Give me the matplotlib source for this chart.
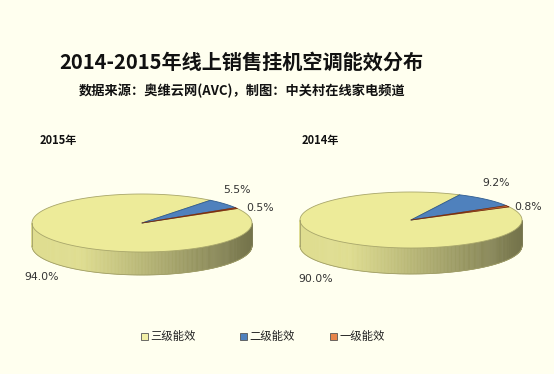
import numpy as np
import matplotlib
matplotlib.use("Agg")
import matplotlib.pyplot as plt
from matplotlib.patches import Polygon, Rectangle

plt.rcParams['font.family'] = ['Noto Sans CJK SC', 'DejaVu Sans']

# ---- data ----
title = "2014-2015年线上销售挂机空调能效分布"
subtitle = "数据来源：奥维云网(AVC)，制图：中关村在线家电频道"
categories = ["三级能效", "二级能效", "一级能效"]
years = ["2015年", "2014年"]
values_2015 = [94.0, 5.5, 0.5]
values_2014 = [90.0, 9.2, 0.8]
series = [values_2015, values_2014]

# ---- style ----
bg = "#FFFFEF"
top_colors = ["#EDEB99", "#4F81BD", "#D8703A"]
edge_colors = ["#A8A66A", "#2F5C8F", "#7A3010"]
legend_colors = ["#F2F0A6", "#4F81BD", "#E8854A"]

fig = plt.figure(figsize=(5.54, 3.74), dpi=100, facecolor=bg)
ax = fig.add_axes([0, 0, 1, 1])
ax.set_xlim(0, 554)
ax.set_ylim(374, 0)
ax.axis("off")
ax.set_facecolor(bg)

# pie layouts: center x, center y, rx, ry, depth, start angle (deg)
layouts = [
    dict(cx=142, cy=223, rx=110, ry=29, depth=23, start=30),
    dict(cx=411, cy=220, rx=111, ry=28, depth=26, start=28),
]
label_pos = [
    [(42, 277), (237, 190), (260, 208)],
    [(316, 279), (496, 183), (528, 207)],
]
year_pos = [(40, 140), (302, 140)]


def shade(color, f):
    c = np.array(matplotlib.colors.to_rgb(color))
    return tuple(np.clip(c * f, 0, 1))


def draw_pie(vals, L):
    cx, cy, rx, ry, d, st = L["cx"], L["cy"], L["rx"], L["ry"], L["depth"], L["start"]
    total = float(sum(vals))
    ranges = []
    a = st
    for v in vals:
        span = 360.0 * v / total
        ranges.append((a - span, a))
        a -= span

    def pt(t, dy=0.0):
        return (cx + rx * np.cos(t), cy - ry * np.sin(t) + dy)

    # side wall (front half)
    n = 240
    ts = np.linspace(np.pi, 2 * np.pi, n + 1)
    for i in range(n):
        t0, t1 = ts[i], ts[i + 1]
        tm = 0.5 * (t0 + t1)
        dm = np.degrees(tm)
        col = top_colors[0]
        for k, (a0, a1) in enumerate(ranges):
            x = (dm - a0) % 360
            if x <= (a1 - a0):
                col = top_colors[k]
                break
        f = min(0.94, 0.78 - 0.29 * np.cos(tm))
        c = shade(col, f)
        poly = [pt(t0), pt(t1), pt(t1, d), pt(t0, d)]
        ax.add_patch(Polygon(poly, closed=True, facecolor=c, edgecolor=c, lw=0.4))
    bt = np.linspace(np.pi, 2 * np.pi, 200)
    ax.plot(cx + rx * np.cos(bt), cy - ry * np.sin(bt) + d, color="#A09E68", lw=0.6)
    ax.plot([cx - rx, cx - rx], [cy, cy + d], color="#A09E68", lw=0.6)

    # top face wedges
    for k, (a0, a1) in enumerate(ranges):
        t = np.radians(np.linspace(a0, a1, max(4, int(abs(a1 - a0) * 2))))
        poly = [(cx, cy)] + [pt(tt) for tt in t]
        ax.add_patch(Polygon(poly, closed=True, facecolor=top_colors[k],
                             edgecolor=edge_colors[k], lw=0.6, joinstyle="round"))
    return ranges


for j, vals in enumerate(series):
    draw_pie(vals, layouts[j])
    for k, v in enumerate(vals):
        x, y = label_pos[j][k]
        ax.text(x, y, f"{v:.1f}%", ha="center", va="center", fontsize=7.8,
                color="#333333", family=["DejaVu Sans"])
    ax.text(year_pos[j][0], year_pos[j][1], years[j], ha="left", va="center",
            fontsize=8, fontweight="bold", color="#111111")

ax.text(241, 62, title, ha="center", va="center", fontsize=14.5,
        fontweight="bold", color="#111111")
ax.text(242, 91, subtitle, ha="center", va="center", fontsize=9.5,
        fontweight="bold", color="#111111")

# legend
leg_x = [141, 240, 330]
for k, cat in enumerate(categories):
    ax.add_patch(Rectangle((leg_x[k], 333), 6.5, 6.5, facecolor=legend_colors[k],
                           edgecolor="#555555", lw=0.6))
    ax.text(leg_x[k] + 9, 336.5, cat, ha="left", va="center", fontsize=8.2,
            color="#222222")

fig.savefig("out.png", dpi=100, facecolor=bg)
